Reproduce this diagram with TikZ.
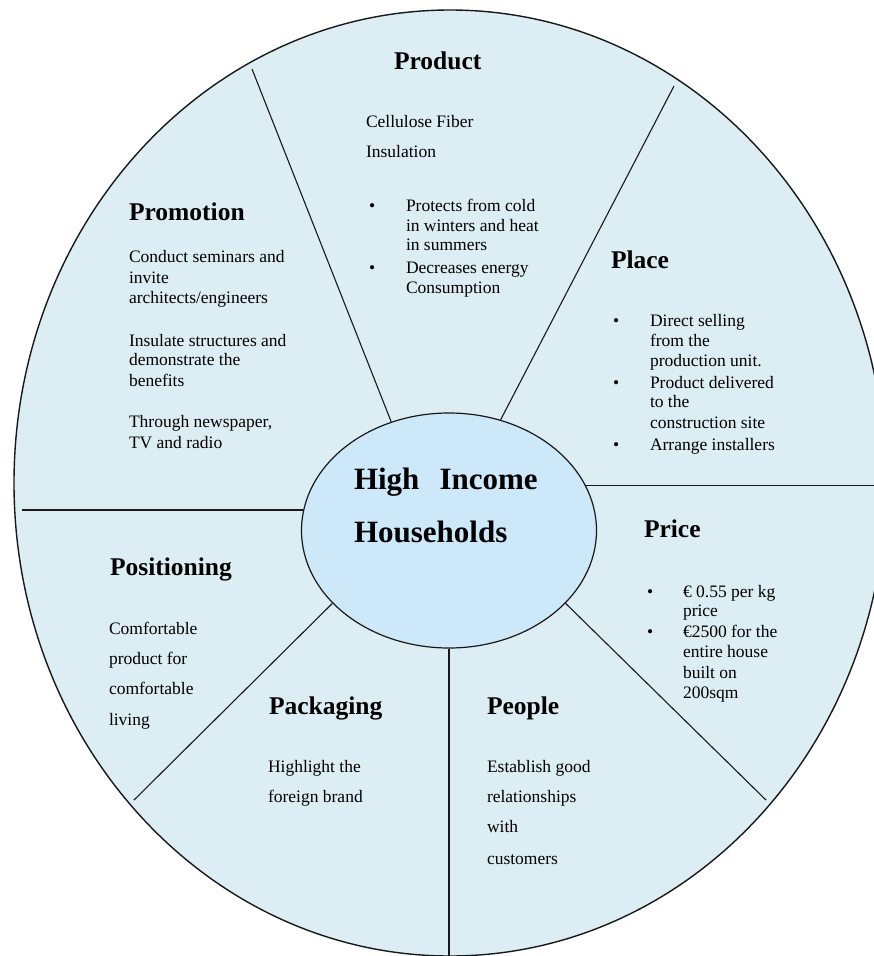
\documentclass[tikz,border=0pt]{standalone}
\usepackage{fontspec}
\setmainfont{Liberation Serif}
\usetikzlibrary{shapes.geometric}
\definecolor{wheelfill}{RGB}{221,237,244}
\definecolor{hubfill}{RGB}{204,232,249}
\definecolor{linecol}{RGB}{25,25,25}
\begin{document}
\begin{tikzpicture}[x=1pt,y=-1pt,
  body/.style={font=\fontsize{17.5}{19}\selectfont, anchor=base west, inner sep=0pt, outer sep=0pt, text=black},
  head/.style={font=\fontsize{25.5}{28}\selectfont\bfseries, anchor=base west, inner sep=0pt, outer sep=0pt, text=black},
  hubtext/.style={font=\fontsize{31}{34}\selectfont\bfseries, anchor=base west, inner sep=0pt, outer sep=0pt, text=black},
  spoke/.style={draw=linecol, line width=1.1pt},
]
\useasboundingbox (0,0) rectangle (874,956);
\clip (0,0) rectangle (874,956);
\fill[white] (0,0) rectangle (874,956);
% wheel and hub
\node[ellipse, draw=linecol, line width=1.4pt, fill=wheelfill, minimum width=872pt, minimum height=946pt, inner sep=0pt] (wheel) at (450,483) {};
\node[ellipse, draw=linecol, line width=1.2pt, fill=hubfill, minimum width=295pt, minimum height=235pt, inner sep=0pt] (hub) at (449,530.5) {};
% free ends of the spokes
\coordinate (ulEnd) at (252,69);
\coordinate (urEnd) at (674,86);
\coordinate (rEnd) at (880,485);
\coordinate (lEnd) at (22,511);
\coordinate (llEnd) at (134,800);
\coordinate (lrEnd) at (766,800);
\coordinate (bEnd) at (450,960);
\draw[spoke] (hub.118) -- (ulEnd);
\draw[spoke] (hub.65) -- (urEnd);
\draw[spoke] (hub.18) -- (hub.18 -| rEnd);
\draw[spoke] (hub.172) -- (hub.172 -| lEnd);
\draw[spoke] (hub.212) -- (llEnd);
\draw[spoke] (hub.328) -- (lrEnd);
\draw[spoke] (hub.south) -- (hub.south |- bEnd);
% hub text
\node[hubtext] (hubA) at (354,489) {High\hspace{0.65em}Income};
\node[hubtext] (hubB) at (354,542) {Households};
% Product
\node[head] (tProduct) at (394,69) {Product};
\node[body] (pr1) at (366,127) {Cellulose Fiber};
\node[body] (pr2) at (366,157) {Insulation};
\node[body] (prb1) at (369,211) {•};
\node[body] (pr3) at (406,211) {Protects from cold};
\node[body] (pr4) at (406,231) {in winters and heat};
\node[body] (pr5) at (406,250) {in summers};
\node[body] (prb2) at (369,273) {•};
\node[body] (pr6) at (406,273) {Decreases energy};
\node[body] (pr7) at (406,293) {Consumption};
% Promotion
\node[head] (tPromotion) at (129,220) {Promotion};
\node[body] (pm1) at (129,262) {Conduct seminars and};
\node[body] (pm2) at (129,283) {invite};
\node[body] (pm3) at (129,303) {architects/engineers};
\node[body] (pm4) at (129,346) {Insulate structures and};
\node[body] (pm5) at (129,365) {demonstrate the};
\node[body] (pm6) at (129,386) {benefits};
\node[body] (pm7) at (129,427) {Through newspaper,};
\node[body] (pm8) at (129,448) {TV and radio};
% Place
\node[head] (tPlace) at (611,268) {Place};
\node[body] (plb1) at (613,326) {•};
\node[body] (pl1) at (650,326) {Direct selling};
\node[body] (pl2) at (650,346) {from the};
\node[body] (pl3) at (650,366) {production unit.};
\node[body] (plb2) at (613,388) {•};
\node[body] (pl4) at (650,388) {Product delivered};
\node[body] (pl5) at (650,407) {to the};
\node[body] (pl6) at (650,428) {construction site};
\node[body] (plb3) at (613,450) {•};
\node[body] (pl7) at (650,450) {Arrange installers};
% Price
\node[head] (tPrice) at (644,537) {Price};
\node[body] (pcb1) at (647,597) {•};
\node[body] (pc1) at (683,597) {€ 0.55 per kg};
\node[body] (pc2) at (683,616) {price};
\node[body] (pcb2) at (647,637) {•};
\node[body] (pc3) at (683,637) {€2500 for the};
\node[body] (pc4) at (683,657) {entire house};
\node[body] (pc5) at (683,678) {built on};
\node[body] (pc6) at (683,698) {200sqm};
% Positioning
\node[head] (tPositioning) at (110,575) {Positioning};
\node[body] (po1) at (109,634) {Comfortable};
\node[body] (po2) at (109,664) {product for};
\node[body] (po3) at (109,694) {comfortable};
\node[body] (po4) at (109,725) {living};
% Packaging
\node[head] (tPackaging) at (269,714) {Packaging};
\node[body] (pk1) at (268,772) {Highlight the};
\node[body] (pk2) at (268,802) {foreign brand};
% People
\node[head] (tPeople) at (487,714) {People};
\node[body] (pe1) at (487,772) {Establish good};
\node[body] (pe2) at (487,802) {relationships};
\node[body] (pe3) at (487,832) {with};
\node[body] (pe4) at (487,864) {customers};
\end{tikzpicture}
\end{document}
